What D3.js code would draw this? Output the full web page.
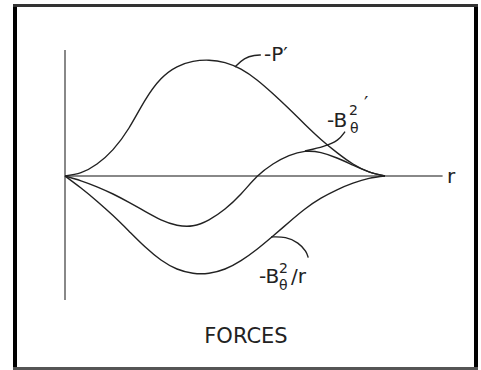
<!DOCTYPE html>
<html lang="en">
<head>
    <meta charset="UTF-8">
    <script src="https://d3js.org/d3.v7.min.js"></script>
    <title>Forces</title>
    <style>
        body { margin: 0; background: #fff; }
        text { font-family: "DejaVu Sans", Verdana, sans-serif; fill: #222; }
    </style>
</head>
<body>
    <div id="chart"></div>
    <script>
        // radius samples (arbitrary units) and the three force curves
        const rValues = [0, 0.5, 1, 1.5, 2, 2.5, 3, 3.5, 4, 4.5, 5, 5.5, 6, 6.5, 7, 7.5, 8, 8.5, 9, 9.5, 10];
        const pressureGrad = [0, 0.28, 1.0, 2.2, 4.0, 6.3, 8.1, 9.1, 9.55, 9.65, 9.45, 8.9, 8.0, 6.85, 5.6, 4.3, 3.05, 1.95, 1.0, 0.35, 0];
        const bthetaGrad = [0, -0.4, -0.9, -1.5, -2.2, -2.95, -3.65, -4.1, -4.15, -3.65, -2.75, -1.5, -0.05, 1.0, 1.7, 2.05, 1.95, 1.5, 0.9, 0.35, 0];
        const bthetaOverR = [0, -1.0, -2.1, -3.3, -4.6, -5.9, -7.0, -7.75, -8.1, -8.1, -7.75, -7.05, -6.1, -5.0, -3.85, -2.75, -1.85, -1.15, -0.6, -0.2, 0];

        // leader lines from labels to curves, [r, value]
        const leaderP = [[5.31, 9.08], [5.6, 9.85], [5.94, 10.08], [6.12, 10.08]];
        const leaderB = [[8.75, 3.7], [8.55, 2.95], [8.1, 2.45], [7.5, 2.08]];
        const leaderBr = [[6.44, -5.08], [6.9, -5.05], [7.3, -5.55], [7.55, -6.3], [7.6, -6.8]];

        const width = 481;
        const height = 370;

        const svg = d3.create("svg")
            .attr("width", width)
            .attr("height", height)
            .attr("viewBox", [0, 0, width, height]);

        document.getElementById("chart").appendChild(svg.node());

        const x = d3.scaleLinear().domain([0, 10]).range([65, 385]);
        const y = d3.scaleLinear().domain([-10, 10]).range([296, 56]);

        // frame
        svg.append("line").attr("x1", 15).attr("x2", 15).attr("y1", 4).attr("y2", 370)
            .attr("stroke", "#000").attr("stroke-width", 4);
        svg.append("line").attr("x1", 476).attr("x2", 476).attr("y1", 4).attr("y2", 370)
            .attr("stroke", "#000").attr("stroke-width", 4);
        svg.append("line").attr("x1", 13).attr("x2", 478).attr("y1", 5.5).attr("y2", 5.5)
            .attr("stroke", "#333").attr("stroke-width", 3);
        svg.append("line").attr("x1", 13).attr("x2", 478).attr("y1", 368.5).attr("y2", 368.5)
            .attr("stroke", "#555").attr("stroke-width", 3);

        // axes
        svg.append("line")
            .attr("x1", x(0)).attr("x2", x(0))
            .attr("y1", y(10.5)).attr("y2", y(-10.33))
            .attr("stroke", "#888").attr("stroke-width", 2);
        svg.append("line")
            .attr("x1", x(0)).attr("x2", x(11.8))
            .attr("y1", y(0)).attr("y2", y(0))
            .attr("stroke", "#888").attr("stroke-width", 2);

        const line = d3.line()
            .x(d => x(d[0]))
            .y(d => y(d[1]))
            .curve(d3.curveNatural);

        [pressureGrad, bthetaGrad, bthetaOverR].forEach(vals => {
            svg.append("path")
                .attr("d", line(rValues.map((r, i) => [r, vals[i]])))
                .attr("fill", "none")
                .attr("stroke", "#222")
                .attr("stroke-width", 1.4);
        });

        const leader = d3.line()
            .x(d => x(d[0]))
            .y(d => y(d[1]))
            .curve(d3.curveBasis);

        [leaderP, leaderB, leaderBr].forEach(pts => {
            svg.append("path")
                .attr("d", leader(pts))
                .attr("fill", "none")
                .attr("stroke", "#222")
                .attr("stroke-width", 1.4);
        });

        // labels
        svg.append("text").attr("x", 264).attr("y", 61).attr("font-size", 20).text("-P′");

        const lb = svg.append("g");
        lb.append("text").attr("x", 327).attr("y", 127).attr("font-size", 20).text("-B");
        lb.append("text").attr("x", 349).attr("y", 115).attr("font-size", 14).text("2");
        lb.append("text").attr("x", 350).attr("y", 133).attr("font-size", 14).text("θ");
        lb.append("text").attr("x", 364).attr("y", 110).attr("font-size", 19).text("′");

        const lr = svg.append("g");
        lr.append("text").attr("x", 259).attr("y", 283).attr("font-size", 20).text("-B");
        lr.append("text").attr("x", 279).attr("y", 273).attr("font-size", 14).text("2");
        lr.append("text").attr("x", 279).attr("y", 290).attr("font-size", 14).text("θ");
        lr.append("text").attr("x", 291).attr("y", 283).attr("font-size", 20).text("/r");

        svg.append("text").attr("x", 447).attr("y", 183).attr("font-size", 20).text("r");

        svg.append("text").attr("x", 246).attr("y", 343).attr("font-size", 21)
            .attr("text-anchor", "middle").text("FORCES");
    </script>
</body>
</html>
